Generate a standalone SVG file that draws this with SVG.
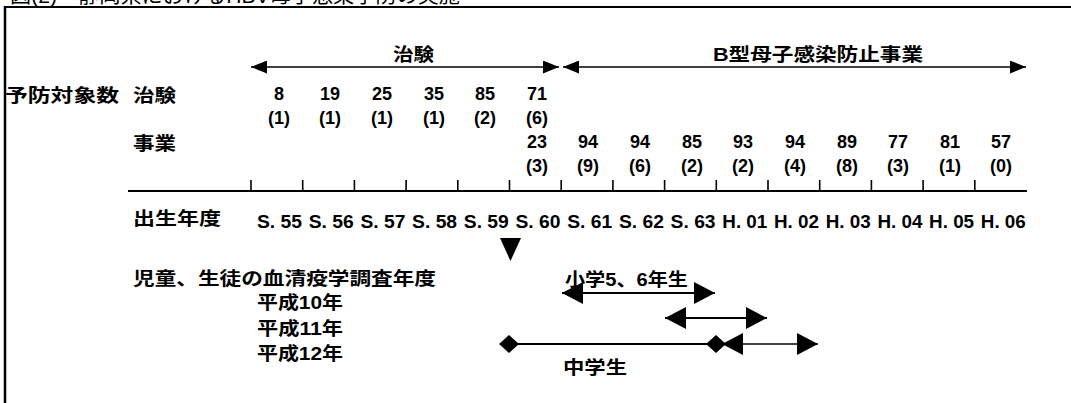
<svg xmlns="http://www.w3.org/2000/svg" width="1071" height="403" viewBox="0 0 1071 403">
<style>
  text{font-family:"Liberation Sans","Noto Sans CJK JP",sans-serif;font-weight:bold;font-size:18px;fill:#000}
  .c{text-anchor:middle}
  .frame{stroke:#000;fill:none}
  .tick{stroke:#000;stroke-width:1.6}
  .conn{stroke:#000;fill:none}
</style>
<defs>
  <marker id="ahS" viewBox="0 0 16 13" refX="16" refY="6.5" markerWidth="16" markerHeight="13" markerUnits="userSpaceOnUse" orient="auto-start-reverse">
    <path d="M0,0 L16,6.5 L0,13 z" fill="#000"/>
  </marker>
  <marker id="ahL" viewBox="0 0 21 22" refX="21" refY="11" markerWidth="21" markerHeight="22" markerUnits="userSpaceOnUse" orient="auto-start-reverse">
    <path d="M0,0 L21,11 L0,22 z" fill="#000"/>
  </marker>
  <marker id="dia" viewBox="0 0 20 18" refX="10" refY="9" markerWidth="20" markerHeight="18" markerUnits="userSpaceOnUse" orient="0">
    <path d="M0,9 L10,0 L20,9 L10,18 z" fill="#000"/>
  </marker>
</defs>
<rect width="1071" height="403" fill="#fff"/>

<g id="title">
  <text x="10" y="3" textLength="450" lengthAdjust="spacingAndGlyphs" style="font-weight:normal;font-size:20px">図(2)　静岡県におけるHBV母子感染予防の実施</text>
</g>
<g id="frame">
  <line class="frame" x1="5" y1="7" x2="1071" y2="7" stroke-width="2"/>
  <line class="frame" x1="5" y1="6" x2="5" y2="403" stroke-width="2.5"/>
</g>

<g id="headings">
  <text x="393" y="61" textLength="41" lengthAdjust="spacingAndGlyphs">治験</text>
  <text x="713" y="61" textLength="210" lengthAdjust="spacingAndGlyphs">B型母子感染防止事業</text>
</g>

<g id="row-labels">
  <text x="5" y="102" textLength="114" lengthAdjust="spacingAndGlyphs">予防対象数</text>
  <text x="133" y="102" textLength="43" lengthAdjust="spacingAndGlyphs">治験</text>
  <text x="133" y="150" textLength="43" lengthAdjust="spacingAndGlyphs">事業</text>
  <text x="133" y="225" textLength="88" lengthAdjust="spacingAndGlyphs">出生年度</text>
</g>

<g id="trial-counts">
  <text class="c" x="279" y="100">8</text>
  <text class="c" x="330" y="100">19</text>
  <text class="c" x="382" y="100">25</text>
  <text class="c" x="434" y="100">35</text>
  <text class="c" x="485" y="100">85</text>
  <text class="c" x="537" y="100">71</text>
  <text class="c" x="279" y="124">(1)</text>
  <text class="c" x="330" y="124">(1)</text>
  <text class="c" x="382" y="124">(1)</text>
  <text class="c" x="434" y="124">(1)</text>
  <text class="c" x="485" y="124">(2)</text>
  <text class="c" x="537" y="124">(6)</text>
</g>

<g id="project-counts">
  <text class="c" x="537" y="148">23</text>
  <text class="c" x="588" y="148">94</text>
  <text class="c" x="640" y="148">94</text>
  <text class="c" x="692" y="148">85</text>
  <text class="c" x="743" y="148">93</text>
  <text class="c" x="795" y="148">94</text>
  <text class="c" x="847" y="148">89</text>
  <text class="c" x="898" y="148">77</text>
  <text class="c" x="950" y="148">81</text>
  <text class="c" x="1001" y="148">57</text>
  <text class="c" x="537" y="172">(3)</text>
  <text class="c" x="588" y="172">(9)</text>
  <text class="c" x="640" y="172">(6)</text>
  <text class="c" x="692" y="172">(2)</text>
  <text class="c" x="743" y="172">(2)</text>
  <text class="c" x="795" y="172">(4)</text>
  <text class="c" x="847" y="172">(8)</text>
  <text class="c" x="898" y="172">(3)</text>
  <text class="c" x="950" y="172">(1)</text>
  <text class="c" x="1001" y="172">(0)</text>
</g>

<g id="axis">
  <line x1="128" y1="191" x2="1027" y2="191" stroke="#000" stroke-width="1.8"/>
  <path class="tick" d="M251,180V191 M302.7,180V191 M354.4,180V191 M406.1,180V191 M457.8,180V191 M509.5,180V191 M561.2,180V191 M612.9,180V191 M664.6,180V191 M716.3,180V191 M768,180V191 M819.7,180V191 M871.4,180V191 M923.1,180V191 M974.8,180V191"/>
</g>

<g id="birth-years">
  <text x="257" y="228" textLength="45" lengthAdjust="spacingAndGlyphs">S. 55</text>
  <text x="308.7" y="228" textLength="45" lengthAdjust="spacingAndGlyphs">S. 56</text>
  <text x="360.4" y="228" textLength="45" lengthAdjust="spacingAndGlyphs">S. 57</text>
  <text x="412.1" y="228" textLength="45" lengthAdjust="spacingAndGlyphs">S. 58</text>
  <text x="463.8" y="228" textLength="45" lengthAdjust="spacingAndGlyphs">S. 59</text>
  <text x="515.5" y="228" textLength="45" lengthAdjust="spacingAndGlyphs">S. 60</text>
  <text x="567.2" y="228" textLength="45" lengthAdjust="spacingAndGlyphs">S. 61</text>
  <text x="618.9" y="228" textLength="45" lengthAdjust="spacingAndGlyphs">S. 62</text>
  <text x="670.6" y="228" textLength="45" lengthAdjust="spacingAndGlyphs">S. 63</text>
  <text x="722.3" y="228" textLength="45" lengthAdjust="spacingAndGlyphs">H. 01</text>
  <text x="774" y="228" textLength="45" lengthAdjust="spacingAndGlyphs">H. 02</text>
  <text x="825.7" y="228" textLength="45" lengthAdjust="spacingAndGlyphs">H. 03</text>
  <text x="877.4" y="228" textLength="45" lengthAdjust="spacingAndGlyphs">H. 04</text>
  <text x="929.1" y="228" textLength="45" lengthAdjust="spacingAndGlyphs">H. 05</text>
  <text x="980.8" y="228" textLength="45" lengthAdjust="spacingAndGlyphs">H. 06</text>
</g>

<g id="survey">
  <text x="133" y="285" textLength="303" lengthAdjust="spacingAndGlyphs">児童、生徒の血清疫学調査年度</text>
  <text x="257" y="309" textLength="86" lengthAdjust="spacingAndGlyphs">平成10年</text>
  <text x="257" y="335" textLength="86" lengthAdjust="spacingAndGlyphs">平成11年</text>
  <text x="257" y="360" textLength="86" lengthAdjust="spacingAndGlyphs">平成12年</text>
  <text x="565" y="286" textLength="123" lengthAdjust="spacingAndGlyphs">小学5、6年生</text>
  <text x="563" y="374" textLength="64" lengthAdjust="spacingAndGlyphs">中学生</text>
</g>

<g id="connectors">
  <line class="conn" x1="251" y1="67" x2="559" y2="67" stroke-width="1.6" marker-start="url(#ahS)" marker-end="url(#ahS)"/>
  <line class="conn" x1="563" y1="67" x2="1026" y2="67" stroke-width="1.6" marker-start="url(#ahS)" marker-end="url(#ahS)"/>
  <polygon points="500,238 521,238 510.5,261" fill="#000"/>
  <line class="conn" x1="562" y1="293" x2="715" y2="293" stroke-width="2" marker-start="url(#ahL)" marker-end="url(#ahL)"/>
  <line class="conn" x1="665" y1="318" x2="767" y2="318" stroke-width="2" marker-start="url(#ahL)" marker-end="url(#ahL)"/>
  <line class="conn" x1="509" y1="344" x2="716" y2="344" stroke-width="2" marker-start="url(#dia)" marker-end="url(#dia)"/>
  <line class="conn" x1="722" y1="344" x2="818" y2="344" stroke-width="1.6" marker-start="url(#ahL)" marker-end="url(#ahL)"/>
</g>
</svg>
